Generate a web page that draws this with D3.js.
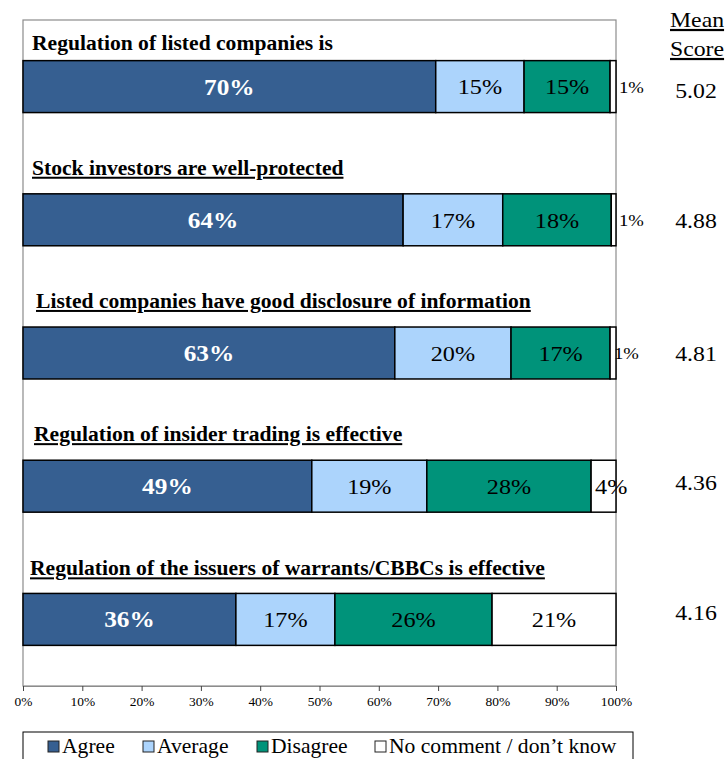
<!DOCTYPE html>
<html><head><meta charset="utf-8">
<script src="https://cdn.jsdelivr.net/npm/d3@7/dist/d3.min.js"></script>
<style>body{margin:0;background:#fff;} svg{display:block;}</style>
</head><body>
<script>
const statements = [
  "Regulation of listed companies is",
  "Stock investors are well-protected",
  "Listed companies have good disclosure of information",
  "Regulation of insider trading is effective",
  "Regulation of the issuers of warrants/CBBCs is effective"
];
const seriesNames = ["Agree", "Average", "Disagree", "No comment / don\u2019t know"];
const agree    = [69.6, 64.1, 62.7, 48.7, 35.9];
const average  = [14.9, 16.8, 19.6, 19.4, 16.7];
const disagree = [14.5, 18.3, 16.7, 27.7, 26.5];
const noComment= [1.0, 0.8, 1.0, 4.2, 20.9];
const agreeLbl    = ["70%", "64%", "63%", "49%", "36%"];
const averageLbl  = ["15%", "17%", "20%", "19%", "17%"];
const disagreeLbl = ["15%", "18%", "17%", "28%", "26%"];
const noCommentLbl= ["1%", "1%", "1%", "4%", "21%"];
const meanScores = ["5.02", "4.88", "4.81", "4.36", "4.16"];
const xTicks = [0,10,20,30,40,50,60,70,80,90,100];

const W = 726, H = 759;
const colors = ["#365f91", "#acd4fc", "#00937a", "#ffffff"];
const font = "'Liberation Serif','Times New Roman',Times,serif";
const svg = d3.select("body").append("svg").attr("width", W).attr("height", H);
const plot = {left: 23, right: 616, top: 20, bottom: 686};
const x = d3.scaleLinear().domain([0, 100]).range([plot.left, plot.right]);
const y = d3.scaleBand().domain(d3.range(statements.length)).range([plot.top, plot.bottom])
  .paddingInner(0.61).paddingOuter(0.305);
const bh = y.bandwidth();
const barTop = i => y(i);

function txt(xp, yp, s, opt) {
  opt = opt || {};
  const g = svg.append("g").attr("transform", `translate(${xp},${yp}) scale(${opt.sx || 1.1},1)`);
  const t = g.append("text").attr("x", 0).attr("y", 0)
    .style("font-family", font).attr("font-size", opt.size || 16)
    .attr("font-weight", opt.weight || "normal").attr("fill", opt.fill || "#000")
    .attr("text-anchor", opt.anchor || "start").text(s);
  if (opt.dy) t.attr("dy", opt.dy);
  if (opt.underline) t.attr("text-decoration", "underline");
  return t;
}

svg.append("rect").attr("x", plot.left).attr("y", plot.top).attr("width", plot.right - plot.left).attr("height", plot.bottom - plot.top)
  .attr("fill", "none").attr("stroke", "#8c8c8c").attr("stroke-width", 1.2);

const values = [agree, average, disagree, noComment];
const labels = [agreeLbl, averageLbl, disagreeLbl, noCommentLbl];
const stackData = statements.map((s, i) => {
  const o = {i};
  seriesNames.forEach((n, k) => o[n] = values[k][i]);
  return o;
});
const stacked = d3.stack().keys(seriesNames)(stackData);

stacked.forEach((layer, k) => {
  svg.append("g").selectAll("rect").data(layer).join("rect")
    .attr("x", d => x(d[0])).attr("width", d => x(d[1]) - x(d[0]))
    .attr("y", d => barTop(d.data.i)).attr("height", bh)
    .attr("fill", colors[k]).attr("stroke", "#000").attr("stroke-width", 1.5);
});

// segment labels
stacked.forEach((layer, k) => {
  layer.forEach((d, i) => {
    const w = x(d[1]) - x(d[0]);
    let tx = (x(d[0]) + x(d[1])) / 2, anchor = "middle", size = 22, weight = "normal", fill = "#000";
    if (k === 0) { weight = "bold"; fill = "#fff"; size = 23; }
    if (k === 3) {
      if (w < 10) { tx = x(100) + 3; anchor = "start"; size = 17; if (i === 2) tx = x(100) - 2; }
      else if (w < 30) { tx = x(d[0]) + 4; anchor = "start"; }
    }
    txt(tx, barTop(i) + bh / 2, labels[k][i], {anchor, size, weight, fill, dy: "0.35em"});
  });
});

// titles
const titleX = [32, 32, 36, 34, 30];
const titleOff = [11, 19, 19, 19, 18];
statements.forEach((s, i) => {
  txt(titleX[i], barTop(i) - titleOff[i], s, {size: 20, weight: "bold", sx: 1.08, underline: i !== 0});
});

// mean scores
txt(670, 27, "Mean", {size: 22, sx: 1.08, underline: true});
txt(670, 56, "Score", {size: 22, sx: 1.08, underline: true});
const meanOff = [4, -0, 0, -4, -7];
meanScores.forEach((m, i) => {
  txt(696, barTop(i) + bh / 2 + meanOff[i], m, {size: 22, sx: 1.08, anchor: "middle", dy: "0.35em"});
});

// axis
const axis = d3.axisBottom(x).tickValues(xTicks).tickFormat(d => d + "%").tickSize(5).tickSizeOuter(0);
const ag = svg.append("g").attr("transform", `translate(0,${plot.bottom})`).call(axis);
ag.select(".domain").attr("stroke", "#8c8c8c");
ag.selectAll(".tick line").attr("stroke", "#444");
ag.selectAll(".tick text").style("font-family", font).attr("font-size", 12).attr("fill", "#000")
  .attr("y", 0).attr("dy", 0).attr("transform", "translate(0,20) scale(1.12,1)");

// legend
svg.append("rect").attr("x", 23).attr("y", 732).attr("width", 610).attr("height", 40)
  .attr("fill", "none").attr("stroke", "#000").attr("stroke-width", 1);
const legX = [48, 143, 257, 375];
seriesNames.forEach((n, k) => {
  svg.append("rect").attr("x", legX[k]).attr("y", 741).attr("width", 11).attr("height", 11)
    .attr("fill", colors[k]).attr("stroke", "#222").attr("stroke-width", 1);
  txt(legX[k] + 14, 753, n, {size: 20, sx: 1.08});
});
</script>
</body></html>
